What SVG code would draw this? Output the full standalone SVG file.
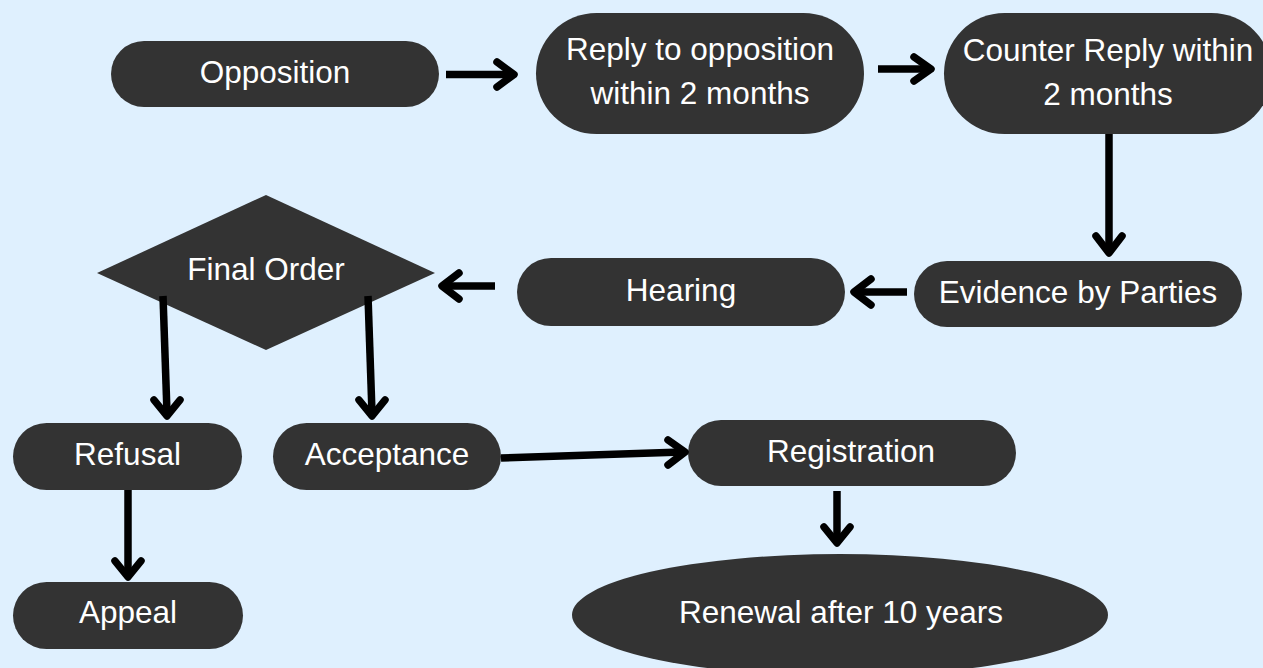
<svg xmlns="http://www.w3.org/2000/svg" width="1263" height="668" viewBox="0 0 1263 668">
<style>
.n{fill:#333333}
.t{fill:#ffffff;font-family:"Liberation Sans",Arial,sans-serif;font-size:31.5px;text-anchor:middle}
.c{fill:none;stroke:#000000;stroke-width:7.5}
.h{fill:none;stroke:#000000;stroke-width:7.5;stroke-linecap:round;stroke-linejoin:round}
</style>
<rect x="0" y="0" width="1263" height="668" fill="#dff0fe"/>
<g id="opposition"><rect class="n" x="111" y="41" width="328" height="66" rx="33"/><text class="t" x="275" y="83">Opposition</text></g>
<g id="reply"><rect class="n" x="536" y="13" width="328" height="121" rx="60.5"/><text class="t" x="700" y="60">Reply to opposition</text><text class="t" x="700" y="104">within 2 months</text></g>
<g id="counter"><rect class="n" x="944" y="13" width="328" height="121" rx="60.5"/><text class="t" x="1108" y="61">Counter Reply within</text><text class="t" x="1108" y="105">2 months</text></g>
<g id="evidence"><rect class="n" x="914" y="261" width="328" height="66" rx="33"/><text class="t" x="1078" y="303">Evidence by Parties</text></g>
<g id="hearing"><rect class="n" x="517" y="258" width="328" height="68" rx="34"/><text class="t" x="681" y="301">Hearing</text></g>
<g id="final-order"><polygon class="n" points="97,273 266,195 435,273 266,350"/><text class="t" x="266" y="280">Final Order</text></g>
<g id="refusal"><rect class="n" x="13" y="423" width="229" height="67" rx="33.5"/><text class="t" x="127.5" y="465">Refusal</text></g>
<g id="acceptance"><rect class="n" x="273" y="423" width="228" height="67" rx="33.5"/><text class="t" x="387" y="465">Acceptance</text></g>
<g id="registration"><rect class="n" x="688" y="420" width="328" height="66" rx="33"/><text class="t" x="851" y="462">Registration</text></g>
<g id="appeal"><rect class="n" x="13" y="582" width="230" height="67" rx="33.5"/><text class="t" x="128" y="623">Appeal</text></g>
<g id="renewal"><ellipse class="n" cx="840" cy="615" rx="268" ry="61"/><text class="t" x="841" y="623">Renewal after 10 years</text></g>
<g id="connectors">
<line class="c" x1="446" y1="74.5" x2="511" y2="74.5"/><polyline class="h" points="497,62 514,74.5 497,87"/>
<line class="c" x1="878" y1="69" x2="929" y2="69"/><polyline class="h" points="914,57 931,69 914,81"/>
<line class="c" x1="1109" y1="134" x2="1109" y2="250"/><polyline class="h" points="1096,236 1109,253 1122,236"/>
<line class="c" x1="907" y1="292" x2="857" y2="292"/><polyline class="h" points="871,279 854,292 871,305"/>
<line class="c" x1="495" y1="286" x2="445" y2="286"/><polyline class="h" points="459,273 442,286 459,299"/>
<line class="c" x1="163" y1="296" x2="167" y2="413"/><polyline class="h" points="154,400 167,416 180,400"/>
<line class="c" x1="368" y1="296" x2="372" y2="413"/><polyline class="h" points="359,400 372,416 385,400"/>
<line class="c" x1="501" y1="458" x2="682" y2="452"/><polyline class="h" points="668,440 685,452 668,465"/>
<line class="c" x1="837" y1="491" x2="837" y2="540"/><polyline class="h" points="824,527 837,543 850,527"/>
<line class="c" x1="128" y1="490" x2="128" y2="574"/><polyline class="h" points="115,561 128,577 141,561"/>
</g>
</svg>
